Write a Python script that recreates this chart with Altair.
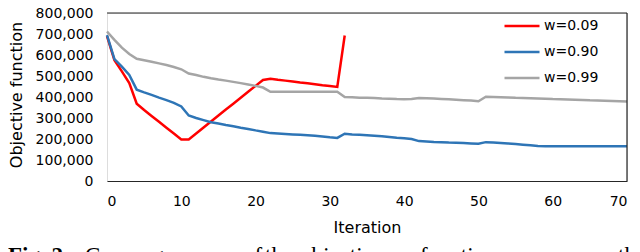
import altair as alt
import pandas as pd

# ---- data ----
series_names = ["w=0.09", "w=0.90", "w=0.99"]
series_colors = ["#FF0000", "#2E75B6", "#A5A5A5"]

red_iter = list(range(0, 33))
red_vals = [690000, 575000, 522000, 466000, 368000, 338000, 310000, 282000, 254000, 226000,
            198000, 198000, 226000, 255000, 283000, 312000, 340000, 368000, 396000, 425000,
            453000, 481000, 487000, 482000, 478000, 474000, 469000, 465000, 461000, 456000,
            452000, 448000, 693000]

blue_iter = list(range(0, 71))
blue_vals = [695000, 580000, 545000, 505000, 435000, 422000, 410000, 397000, 385000, 372000,
             355000, 312000, 300000, 290000, 280000, 274000, 267000, 261000, 254000, 248000,
             241000, 235000, 228000, 226000, 224000, 222000, 220000, 218000, 215000, 212000,
             208000, 205000, 225000, 222000, 220000, 218000, 216000, 213000, 210000, 206000,
             203000, 200000, 190000, 188000, 186000, 185000, 183000, 182000, 181000, 179000,
             177000, 185000, 183000, 181000, 179000, 176000, 173000, 170000, 167000, 166000,
             166000, 166000, 166000, 166000, 166000, 166000, 166000, 166000, 166000, 166000,
             166000]

gray_iter = list(range(0, 71))
gray_vals = [712000, 672000, 635000, 605000, 582000, 575000, 568000, 560000, 552000, 543000,
             532000, 512000, 505000, 496000, 489000, 483000, 478000, 472000, 466000, 460000,
             453000, 445000, 425000, 425000, 425000, 425000, 425000, 425000, 425000, 425000,
             425000, 425000, 400000, 399000, 397000, 396000, 395000, 393000, 392000, 390000,
             389000, 390000, 395000, 394000, 393000, 391000, 389000, 387000, 385000, 383000,
             380000, 401000, 400000, 399000, 398000, 396000, 395000, 394000, 393000, 392000,
             390000, 389000, 388000, 387000, 386000, 384000, 383000, 382000, 381000, 380000,
             378000]

x_ticks = [0, 10, 20, 30, 40, 50, 60, 70]
y_ticks = [0, 100000, 200000, 300000, 400000, 500000, 600000, 700000, 800000]

caption_words = ["Convergence", "of", "the", "objective", "function", "versus", "the"]
caption_bold = ["Fig. 2."]

# ---- build tables ----
rows = []
for name, its, vals in zip(series_names, [red_iter, blue_iter, gray_iter],
                           [red_vals, blue_vals, gray_vals]):
    for i, v in zip(its, vals):
        rows.append({"series": name, "iteration": i, "value": v})
df = pd.DataFrame(rows)

FONT = "DejaVu Sans"
TOP = 5
W, H = 520, 168

xscale = alt.Scale(domain=[0, 70], nice=False, zero=False)
yscale = alt.Scale(domain=[0, 800000], nice=False)

xaxis = alt.Axis(values=x_ticks, title="Iteration", grid=False, ticks=False,
                 tickSize=0, labelPadding=13, domainColor="#262626",
                 domainWidth=1.2, titleY=51, titleBaseline="alphabetic",
                 labelFont=FONT, labelFontSize=14, labelColor="#000000",
                 titleFont=FONT, titleFontSize=16, titleFontWeight="normal",
                 titleColor="#000000")
yaxis = alt.Axis(values=y_ticks, format=",.0f", formatType="number",
                 title="Objective function",
                 grid=False, ticks=False, tickSize=0, domain=False,
                 labelPadding=14, titleX=-83, titleY=(H - TOP) / 2,
                 titleBaseline="bottom",
                 labelFont=FONT, labelFontSize=14, labelColor="#000000",
                 titleFont=FONT, titleFontSize=16, titleFontWeight="normal",
                 titleColor="#000000")

lines = alt.Chart(df).mark_line(strokeWidth=2.5).encode(
    x=alt.X("iteration:Q", scale=xscale, axis=xaxis),
    y=alt.Y("value:Q", scale=yscale, axis=yaxis),
    color=alt.Color("series:N",
                    scale=alt.Scale(domain=series_names, range=series_colors),
                    legend=alt.Legend(title=None, orient="none", legendX=396,
                                      legendY=-1 - TOP,
                                      symbolType="stroke", symbolSize=1225,
                                      symbolStrokeWidth=2.5, labelFont=FONT,
                                      labelFontSize=14, labelColor="#000000",
                                      labelOffset=3, rowPadding=-4)),
    order="iteration:Q",
)

top_rule = alt.Chart(pd.DataFrame({"v": [y_ticks[-1]]})).mark_rule(
    color="#262626", strokeWidth=1.2).encode(y=alt.Y("v:Q", scale=yscale, axis=yaxis))
right_rule = alt.Chart(pd.DataFrame({"v": [x_ticks[-1]]})).mark_rule(
    color="#262626", strokeWidth=1.2).encode(x=alt.X("v:Q", scale=xscale, axis=xaxis))

cap_pos = [-22, 136, 158, 193, 313, 418, 511]
cap_df = pd.DataFrame({"w": caption_words, "px": cap_pos})
cap = alt.Chart(cap_df).mark_text(font="Liberation Serif", fontSize=23, align="left",
                                  baseline="alphabetic", color="#000000").encode(
    x=alt.X("px:Q", scale=None), y=alt.value(255 - TOP), text="w:N")
capb = alt.Chart(pd.DataFrame({"w": caption_bold, "px": [-99]})).mark_text(
    font="Liberation Serif", fontSize=23, fontWeight="bold", align="left",
    baseline="alphabetic", color="#000000").encode(
    x=alt.X("px:Q", scale=None), y=alt.value(255 - TOP), text="w:N")

chart = alt.layer(lines, top_rule, right_rule, cap, capb).properties(
    width=W, height=H,
    autosize=alt.AutoSizeParams(type="none"),
    padding={"left": 99, "top": TOP, "right": 5, "bottom": 80},
).configure_view(stroke=None).configure(background="#ffffff")

chart.save("out.html", embed_options={"renderer": "svg", "actions": False})
